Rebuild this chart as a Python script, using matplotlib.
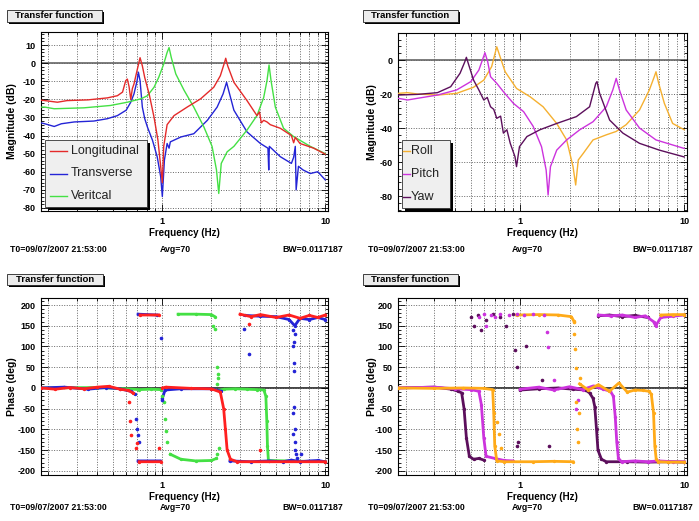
import matplotlib
matplotlib.use("Agg")
import matplotlib.pyplot as plt
from matplotlib.patches import Rectangle
from matplotlib.ticker import FixedLocator, LogLocator, MultipleLocator, NullFormatter, FuncFormatter

nan = float("nan")

# ---------------- magnitude, translational dofs (top left) ----------------
long_f = [0.18, 0.19, 0.227, 0.26, 0.35, 0.46, 0.53, 0.57, 0.596, 0.61,
          0.625, 0.64, 0.655, 0.67, 0.70, 0.73, 0.754, 0.78, 0.83, 0.89,
          0.94, 0.977, 1.0, 1.02, 1.07, 1.18, 1.42, 1.72, 2.07, 2.27,
          2.41, 2.45, 2.52, 2.75, 3.31, 3.81, 3.95, 4.05, 4.19, 4.39,
          4.6, 5.3, 6.2, 6.4, 6.55, 7.0, 8.5, 10.0]
long_db = [-20.5, -20.7, -21.6, -20.7, -20.3, -19.2, -18, -16, -9.7, -8.8,
           -13, -20, -14, -11.5, -4, 3, -1.5, -8, -17, -30,
           -42.6, -57, -66, -46, -34, -29, -24.3, -19.7, -13.3, -7,
           0.4, 2.7, -1.5, -10.6, -20.7, -29, -27, -33, -31.6, -32.5,
           -34, -36, -40, -44, -41, -44.4, -47, -50.3]

trans_f = [0.18, 0.19, 0.217, 0.24, 0.288, 0.38, 0.46, 0.53, 0.6, 0.64,
           0.67, 0.70, 0.713, 0.73, 0.754, 0.78, 0.81, 0.87, 0.93, 0.977,
           1.0, 1.03, 1.07, 1.1, 1.12, 1.3, 1.56, 1.89, 2.17, 2.36,
           2.48, 2.57, 2.75, 3.31, 4.0, 4.45, 4.5, 4.54, 5.3, 6.2,
           6.4, 6.55, 6.63, 6.85, 7.3, 8.1, 9.0, 10.0]
trans_db = [-33, -33.5, -35, -33.5, -32.5, -32, -30.7, -29, -26, -21.6,
            -17, -9.7, -5, -9.7, -24.3, -30.7, -35.3, -42.6, -51.7, -62.7,
            -73.7, -53.6, -44.4, -47, -43.5, -40.8, -39, -31.6, -24.3, -17,
            -10.6, -16, -26, -38, -44.4, -47, -59, -46, -51.7, -55.4,
            -52, -46, -70, -57, -59, -61, -60, -64.5]

vert_f = [0.18, 0.19, 0.217, 0.33, 0.48, 0.61, 0.74, 0.81, 0.89, 0.95,
          1.02, 1.07, 1.1, 1.135, 1.21, 1.36, 1.56, 1.8, 2.02, 2.15,
          2.22, 2.3, 2.5, 2.75, 3.31, 3.81, 4.19, 4.39, 4.52, 4.65,
          4.94, 5.55, 6.4, 8.1, 10.0]
vert_db = [-24.3, -24.3, -25.2, -24.7, -23.4, -21.6, -19.7, -18, -13.3, -7.9,
           -0.5, 5.9, 8.6, 3.1, -6, -15, -24.3, -35.3, -46, -59,
           -72, -55.4, -49, -46, -37, -29, -19, -9.7, -1, -9.7,
           -24.3, -36, -40.6, -46, -50]

# ---------------- magnitude, rotational dofs (top right) ----------------
roll_f = [0.18, 0.206, 0.237, 0.313, 0.41, 0.52, 0.6, 0.67, 0.72, 0.76,
          0.81, 0.95, 1.15, 1.38, 1.67, 1.92, 2.1, 2.18, 2.26, 2.42,
          2.78, 3.35, 3.85, 4.43, 5.34, 6.13, 6.57, 6.73, 6.99, 7.57,
          8.5, 10.0]
roll_db = [-19.6, -19.2, -20, -20.6, -19.6, -16, -11.8, -3.9, 7.8, 1,
           -6.9, -16.7, -21.6, -27.5, -37.3, -47, -62.7, -73.5, -58.8, -55,
           -47, -44, -42, -38, -29.4, -17.6, -9.8, -6.9, -13.7, -25.5,
           -37.3, -41]

pitch_f = [0.18, 0.206, 0.237, 0.313, 0.41, 0.5, 0.56, 0.61, 0.634, 0.66,
           0.72, 0.79, 0.91, 1.05, 1.2, 1.35, 1.44, 1.48, 1.53, 1.67,
           1.92, 2.31, 2.78, 3.35, 3.67, 3.85, 4.03, 4.43, 5.34, 6.73,
           10.0]
pitch_db = [-22.5, -23.5, -22.5, -20.6, -17.6, -12.7, -5.9, 4.3, -1, -9.8,
            -13.7, -18.6, -25.5, -30.4, -39, -51, -64.7, -79.4, -62.7, -53,
            -47, -41, -36.3, -27.5, -17.6, -10.8, -17.6, -29.4, -40, -47,
            -52]

yaw_f = [0.18, 0.237, 0.313, 0.377, 0.43, 0.46, 0.47, 0.486, 0.52, 0.56,
         0.6, 0.63, 0.66, 0.69, 0.72, 0.76, 0.79, 0.83, 0.87, 0.93,
         0.95, 0.99, 1.1, 1.32, 1.67, 2.2, 2.65, 2.89, 2.94, 3.05,
         3.51, 4.23, 5.34, 7.06, 10.0]
yaw_db = [-20.6, -20.2, -19.2, -15.7, -7.8, -1, 1.6, -2.9, -11.8, -17.6,
          -23.5, -22, -27.5, -29, -34.3, -33, -43, -41, -49, -56.9,
          -62.7, -51, -45, -41, -37.3, -33.3, -27.5, -13.7, -12.7, -19.6,
          -35.3, -43, -49, -53, -57]

# ---------------- phase, translational dofs (bottom left) ----------------
long_ph_f = [0.18, 0.22, 0.27, 0.33, 0.4, 0.47, 0.55, 0.62, 0.66, nan,
             0.72, 0.98, nan,
             0.73, 0.95, nan,
             1.0, 1.05, 1.5, 2.0, 2.27, 2.38, 2.44, 2.5, 2.62, 2.88, 10.0, nan,
             3.0, 3.5, 4.0, 5.0, 6.0, 7.0, 8.0, 9.0, 10.0]
long_ph = [0, -3, 1, -2, 2, 4, -3, -6, -12, nan,
           -178, -178, nan,
           176, 176, nan,
           0, 2, -1, -2, -10, -50, -100, -150, -172, -178, -178, nan,
           178, 172, 177, 170, 176, 168, 175, 170, 176]
long_out_f = [0.625, 0.634, 0.64, 0.686, 0.70, 0.96, 3.4, 4.0]
long_out_ph = [-34, -80, -114, -146, -134, -146, 155, -150]

trans_ph_f = [0.18, 0.25, 0.35, 0.45, 0.55, 0.64, 0.68, nan,
              0.71, 0.97, nan,
              0.71, 0.93, nan,
              1.0, 1.04, 1.3, 2.0, 2.3, nan,
              2.6, 3.5, 4.5, 5.5, 6.2, 7.0, 8.0, 9.0, 10.0, nan,
              3.2, 4.0, 5.0, 6.0, 6.5, 7.0, 8.0, 9.0, 10.0]
trans_ph = [0, 2, -3, 1, -2, -8, -15, nan,
            -176, -176, nan,
            178, 176, nan,
            -25, -5, -2, -2, -8, nan,
            -176, -178, -176, -178, -174, -178, -176, -175, -178, nan,
            175, 173, 172, 165, 150, 168, 165, 170, 165]
trans_out_f = [0.686, 0.70, 0.705, 0.72, 0.98, 1.0, 3.16, 3.39, 6.3, 6.35,
               6.4, 6.42, 6.45, 6.38, 6.5, 6.55, 6.48, 6.6, 6.4, 6.35,
               6.5, 6.7, 7.1]
trans_out_ph = [-74, -98, -114, -130, 120, -30, 142, 82, 140, 100,
                60, 40, -45, -60, -100, -130, -150, -160, 110, -110,
                130, -170, -160]

vert_ph_f = [0.18, 0.4, 0.6, 0.72, 0.85, 0.98, nan,
             1.12, 1.3, 1.6, 2.0, 2.15, nan,
             1.25, 1.6, 2.0, 2.1, nan,
             2.25, 2.4, 2.8, 3.3, 3.8, 4.2, 4.32, 4.38, 4.42, 4.48, 10.0]
vert_ph = [0, 1, -2, -4, -3, -4, nan,
           -160, -172, -176, -175, -170, nan,
           178, 178, 177, 172, nan,
           -5, -3, -2, -3, -4, -5, -20, -80, -140, -175, -178]
vert_out_f = [1.0, 1.02, 1.04, 1.05, 1.07, 2.1, 2.17, 2.19, 2.2, 2.22, 2.16, 2.18, 2.05]
vert_out_ph = [-20, -34, -74, -105, -130, 142, 50, 34, 25, -146, -160, 10, 150]

# ---------------- phase, rotational dofs (bottom right) ----------------
roll_ph_f = [0.18, 0.3, 0.45, 0.6, 0.68, 0.69, 0.7, 0.72, 0.8, 1.2, 1.6, 2.1, nan,
             0.95, 1.3, 1.7, 2.05, 2.12, nan,
             2.3, 2.6, 3.0, 3.5, 4.0, 4.5, 5.0, 5.6, 6.1, 6.3, 6.5, 6.62, 6.75, 6.95, 8.0, 10.0, nan,
             7.2, 8.5, 10.0]
roll_ph = [0, -1, 0, -1, -4, -60, -140, -176, -178, -178, -177, -178, nan,
           176, 177, 176, 172, 162, nan,
           10, -5, 8, -8, 12, -10, -5, -6, -8, -15, -60, -140, -172, -178, -179, -179, nan,
           176, 177, 177]
roll_out_f = [2.12, 2.15, 2.18, 2.2, 2.22, 2.25, 2.13, 2.28, 0.72, 0.74, 0.76, 2.3]
roll_out_ph = [130, 95, 47, -34, -98, -130, 160, -60, -82, -110, -146, 25]

pitch_ph_f = [0.18, 0.3, 0.4, 0.5, 0.56, 0.58, 0.6, 0.62, 0.7, 0.8, 0.9, nan,
              1.0, 1.3, 1.6, 2.0, 2.4, 2.8, 3.2, 3.55, 3.7, 3.8, 3.88, 3.97, 4.15, 5.0, 6.0, 7.0, 8.5, 10.0, nan,
              3.0, 3.6, 4.2, 5.0, 5.8, 6.5, 6.7, 7.2, 8.5, 10.0]
pitch_ph = [0, 2, -2, -4, -8, -40, -120, -165, -170, -175, -176, nan,
            -3, 2, -5, 3, -4, 5, -3, -8, -20, -70, -130, -170, -178, -176, -178, -176, -178, -178, nan,
            176, 174, 176, 170, 174, 160, 150, 170, 173, 176]
pitch_out_f = [0.56, 0.6, 0.62, 0.66, 0.7, 0.75, 0.85, 0.95, 1.05, 1.2, 1.4, 1.45, 1.48, 1.6, 2.2, 2.25]
pitch_out_ph = [170, 178, 150, 175, 172, 178, 175, 178, 176, 178, 175, 135, 99, 20, -50, -30]

yaw_ph_f = [0.18, 0.3, 0.38, 0.42, 0.44, 0.455, 0.47, 0.49, 0.52, 0.56, 0.6, nan,
            1.0, 1.3, 1.7, 2.1, 2.5, 2.65, 2.78, 2.85, 2.92, 2.98, 3.13, 3.35, 4.5, 6.0, 8.0, 10.0, nan,
            3.0, 3.5, 4.2, 5.0, 6.0]
yaw_ph = [0, 2, -3, -8, -12, -50, -120, -165, -172, -170, -174, nan,
          -5, -2, 0, -3, -5, -12, -25, -45, -100, -150, -172, -178, -178, -179, -178, -179, nan,
          174, 176, 172, 175, 170]
yaw_out_f = [0.5, 0.52, 0.55, 0.58, 0.62, 0.68, 0.75, 0.82, 0.9, 0.93, 0.95, 0.97, 0.96, 1.08, 1.35, 1.5]
yaw_out_ph = [170, 150, 175, 140, 165, 178, 170, 150, 178, 91, 50, -130, -140, 100, 20, -140]

trans_names = ["Longitudinal", "Transverse", "Veritcal"]
rot_names = ["Roll", "Pitch", "Yaw"]
footer = ["T0=09/07/2007 21:53:00", "Avg=70", "BW=0.0117187"]

C_LONG, C_TRANS, C_VERT = "#e42a2a", "#2424d6", "#44e044"
C_ROLL, C_PITCH, C_YAW = "#f5b030", "#cc33dd", "#5c0f5c"

plt.rcParams["font.family"] = ["Liberation Sans", "DejaVu Sans"]
plt.rcParams["font.weight"] = "bold"
plt.rcParams["axes.labelweight"] = "bold"
plt.rcParams["axes.unicode_minus"] = False

W, H = 699, 521
fig = plt.figure(figsize=(W / 100, H / 100), dpi=100)


def px_axes(x0, y0, x1, y1):
    return fig.add_axes([x0 / W, 1 - y1 / H, (x1 - x0) / W, (y1 - y0) / H])


def style(ax, ylim, major, minor, ylabel, zero_color):
    ax.set_xscale("log")
    ax.set_xlim(0.18, 10.4)
    ax.set_ylim(*ylim)
    ax.xaxis.set_major_locator(FixedLocator([1, 10]))
    ax.xaxis.set_major_formatter(FuncFormatter(lambda v, p: f"{v:g}"))
    ax.xaxis.set_minor_locator(LogLocator(subs=[2, 3, 4, 5, 6, 7, 8, 9]))
    ax.xaxis.set_minor_formatter(NullFormatter())
    ax.yaxis.set_major_locator(MultipleLocator(major))
    ax.yaxis.set_minor_locator(MultipleLocator(minor))
    ax.tick_params(which="both", direction="in", top=True, right=True,
                   labelsize=6.5, width=0.6)
    ax.tick_params(which="major", length=5, pad=4)
    ax.tick_params(which="minor", length=2.5)
    gkw = dict(color="#666666", lw=0.7, ls=(0, (1, 1.6)))
    ax.grid(which="both", axis="x", **gkw)
    ax.grid(which="major", axis="y", **gkw)
    ax.axhline(0, color=zero_color, lw=1.2, zorder=1.5)
    for s in ax.spines.values():
        s.set_linewidth(0.8)
    ax.set_xlabel("Frequency (Hz)", fontsize=7)
    ax.set_ylabel(ylabel, fontsize=7.5)


def legend_box(ax, x0, y0, x1, y1, names, colors, seg):
    # ROOT-like legend with drop shadow, positions in pixels of the figure
    t = fig.transFigure
    fig.patches.append(Rectangle(((x0 + 3) / W, 1 - (y1 + 3) / H), (x1 - x0) / W, (y1 - y0) / H,
                                 transform=t, facecolor="black", edgecolor="none", zorder=5))
    fig.patches.append(Rectangle((x0 / W, 1 - y1 / H), (x1 - x0) / W, (y1 - y0) / H,
                                 transform=t, facecolor="#efefef", edgecolor="#333333", lw=0.6, zorder=6))
    rows = len(names)
    for i, (n, c) in enumerate(zip(names, colors)):
        yc = y0 + (y1 - y0) * (i + 0.5) / rows
        fig.lines.append(plt.Line2D([seg[0] / W, seg[1] / W], [1 - yc / H, 1 - yc / H],
                                    transform=t, color=c, lw=1.0, zorder=7))
        fig.text(seg[2] / W, 1 - yc / H, n, fontsize=9, fontweight="normal",
                 va="center", ha="left", color="#222222", zorder=7)


def title_box(x0, y0, x1, y1):
    t = fig.transFigure
    fig.patches.append(Rectangle(((x0 + 2) / W, 1 - (y1 + 2) / H), (x1 - x0) / W, (y1 - y0) / H,
                                 transform=t, facecolor="black", edgecolor="none"))
    fig.patches.append(Rectangle((x0 / W, 1 - y1 / H), (x1 - x0) / W, (y1 - y0) / H,
                                 transform=t, facecolor="#ececec", edgecolor="#222222", lw=0.6))
    fig.text((x0 + x1) / 2 / W, 1 - (y0 + y1) / 2 / H, "Transfer function",
             fontsize=6.8, ha="center", va="center")


def footer_row(xl, xc, xr, y, right_align=True):
    fig.text(xl / W, 1 - y / H, footer[0], fontsize=6.3, ha="left", va="center")
    fig.text(xc / W, 1 - y / H, footer[1], fontsize=6.3, ha="center", va="center")
    fig.text(xr / W, 1 - y / H, footer[2], fontsize=6.3,
             ha="right" if right_align else "left", va="center")


def phase_series(ax, f, ph, of, oph, color, z):
    ax.plot(f, ph, color=color, lw=2.0, marker="o", ms=1.4, zorder=z)
    ax.plot(of, oph, ls="none", marker="o", ms=1.6, color=color, zorder=z + 3)


# top left
ax1 = px_axes(41, 32, 328, 211)
style(ax1, (-81.7, 17.2), 10, 2, "Magnitude (dB)", "#666666")
ax1.plot(trans_f, trans_db, color=C_TRANS, lw=1.0, zorder=3)
ax1.plot(vert_f, vert_db, color=C_VERT, lw=1.0, zorder=3)
ax1.plot(long_f, long_db, color=C_LONG, lw=1.0, zorder=4)
legend_box(ax1, 45, 140, 147, 207, trans_names, [C_LONG, C_TRANS, C_VERT], (50, 67, 71))

# top right
ax2 = px_axes(398, 33, 687, 211)
style(ax2, (-88.8, 15.9), 20, 4, "Magnitude (dB)", "#666666")
ax2.plot(roll_f, roll_db, color=C_ROLL, lw=1.0, zorder=3)
ax2.plot(pitch_f, pitch_db, color=C_PITCH, lw=1.0, zorder=3)
ax2.plot(yaw_f, yaw_db, color=C_YAW, lw=1.0, zorder=4)
legend_box(ax2, 402, 140, 450, 208, rot_names, [C_ROLL, C_PITCH, C_YAW], (403, 410, 411))

# bottom left
ax3 = px_axes(41, 298, 328, 475)
style(ax3, (-210, 217), 50, 10, "Phase (deg)", "#222222")
phase_series(ax3, vert_ph_f, vert_ph, vert_out_f, vert_out_ph, C_VERT, 2)
phase_series(ax3, trans_ph_f, trans_ph, trans_out_f, trans_out_ph, C_TRANS, 3)
phase_series(ax3, long_ph_f, long_ph, long_out_f, long_out_ph, "#ff2020", 4)

# bottom right
ax4 = px_axes(398, 298, 687, 475)
style(ax4, (-210, 217), 50, 10, "Phase (deg)", "#222222")
phase_series(ax4, yaw_ph_f, yaw_ph, yaw_out_f, yaw_out_ph, C_YAW, 2)
phase_series(ax4, pitch_ph_f, pitch_ph, pitch_out_f, pitch_out_ph, C_PITCH, 3)
phase_series(ax4, roll_ph_f, roll_ph, roll_out_f, roll_out_ph, "#ffaa18", 4)

for ax in (ax1, ax3):
    ax.yaxis.set_label_coords(-0.082, 0.5)
    ax.xaxis.set_label_coords(0.5, -0.095)
for ax in (ax2, ax4):
    ax.yaxis.set_label_coords(-0.073, 0.5)
    ax.xaxis.set_label_coords(0.5, -0.095)

title_box(7, 10, 102, 22)
title_box(363, 10, 458, 22)
title_box(7, 274, 103, 285)
title_box(363, 274, 458, 285)

footer_row(10, 175, 343, 250)
footer_row(368, 527, 632, 250, right_align=False)
footer_row(10, 175, 343, 508)
footer_row(368, 527, 632, 508, right_align=False)

fig.savefig("out.png", dpi=100, facecolor="white")
